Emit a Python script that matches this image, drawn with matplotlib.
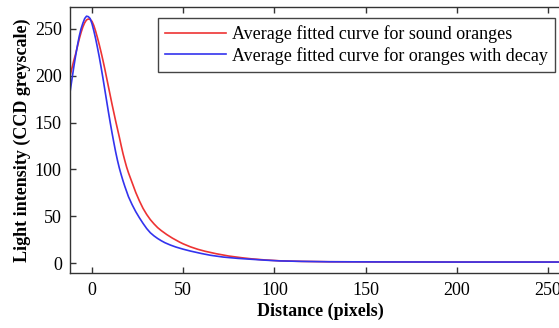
#!/usr/bin/env python

import numpy as np
import matplotlib.pyplot as plt

# ----------------------------------------------------------------------
# data
# ----------------------------------------------------------------------

dist_sound = [-12, -11, -10, -9, -8, -7, -6, -5, -4, -3, -2, -1, 0, 1, 2, 3,
              4, 5, 6, 7, 8, 9, 10, 11, 12, 13, 14, 15, 16, 17, 18, 19, 20,
              22, 24, 26, 28, 30, 32, 34, 36, 38, 41, 44, 48, 50, 54, 58, 62,
              68, 75, 82, 87, 95, 103, 115, 130, 160, 200, 262]
int_sound = [200, 208, 216, 223, 231, 239, 246, 252, 256.5, 259.5, 260.5,
             260, 258, 253.5, 247.5, 240.5, 233, 225, 216.5, 207.5, 198,
             188.5, 179, 169.5, 160.5, 151.5, 143, 134.5, 125.5, 117, 109.5,
             102.5, 96.5, 86, 75.5, 66.5, 58.5, 52, 46.5, 42, 38, 34.8, 30.6,
             26.9, 22.6, 20.7, 17.5, 14.9, 12.8, 10.2, 7.7, 5.9, 4.8, 3.5,
             2.6, 2.0, 1.6, 1.4, 1.3, 1.3]

dist_decay = [-12, -11, -10, -9, -8, -7, -6, -5, -4, -3, -2, -1, 0, 1, 2, 3,
              4, 5, 6, 7, 8, 9, 10, 11, 12, 13, 14, 15, 16, 17, 18, 19, 20,
              22, 24, 26, 28, 30, 32, 34, 36, 38, 40, 43, 46, 50, 54, 60, 65,
              72, 80, 87, 95, 103, 115, 130, 160, 200, 262]
int_decay = [183, 196, 209, 221, 232, 242, 250, 256, 261, 263.5, 263, 261,
             255.5, 248, 239.5, 230, 220, 209, 197.5, 185.5, 173.5, 161.5,
             150, 139, 128.5, 118.5, 109.5, 101.5, 94.5, 88, 82, 76.5, 71,
             62.5, 55, 48.5, 42.5, 37, 32.5, 29.2, 26.4, 24, 21.9, 19.4, 17.3,
             15, 13, 10.4, 8.5, 6.6, 5.2, 4.3, 3.3, 2.5, 2.0, 1.6, 1.4, 1.3,
             1.3]

labels = ['Average fitted curve for sound oranges',
          'Average fitted curve for oranges with decay']

xticks = [0, 50, 100, 150, 200, 250]
yticks = [0, 50, 100, 150, 200, 250]

# ----------------------------------------------------------------------
# plot
# ----------------------------------------------------------------------

plt.rcParams['font.family'] = ['Liberation Serif', 'DejaVu Serif']
plt.rcParams['font.size'] = 13

fig = plt.figure(figsize=(5.59, 3.28), dpi=100)
ax = fig.add_axes([0.1254, 0.1668, 0.894, 0.811])

ax.plot(dist_sound, int_sound, color='#ee3333', lw=1.2, label=labels[0])
ax.plot(dist_decay, int_decay, color='#3333ee', lw=1.2, label=labels[1])

ax.set_xlim(-12, 262)
ax.set_ylim(-10.7, 273)
ax.set_xticks(xticks)
ax.set_yticks(yticks)
ax.tick_params(direction='in', length=4, width=1, color='#333333',
               top=True, right=True, labelsize=13, pad=6)
for s in ax.spines.values():
    s.set_color('#333333')
    s.set_linewidth(1.0)

ax.set_xlabel('Distance (pixels)', fontweight='bold', fontsize=13, labelpad=3)
ax.set_ylabel('Light intensity (CCD greyscale)', fontweight='bold',
              fontsize=13, labelpad=3)

leg = ax.legend(loc='upper right', bbox_to_anchor=(555 / 559, 1 - 18 / 328),
                bbox_transform=fig.transFigure, borderaxespad=0,
                fancybox=False, framealpha=1, edgecolor='#444444',
                handlelength=3.4, handletextpad=0.3, labelspacing=0.2,
                borderpad=0.4, fontsize=13)
leg.get_frame().set_linewidth(1.0)

plotfile = 'out.png'
print('writing : ', plotfile)
fig.savefig(plotfile, dpi=100)
plt.close()
